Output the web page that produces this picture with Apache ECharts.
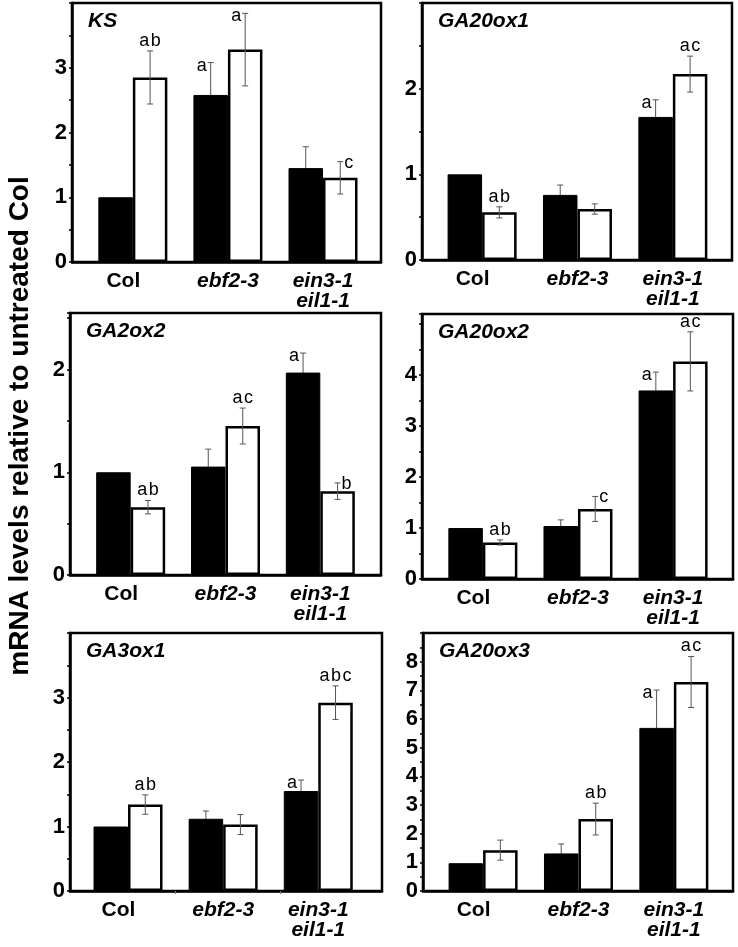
<!DOCTYPE html>
<html>
<head>
<meta charset="utf-8">
<script src="https://cdn.jsdelivr.net/npm/echarts@6/dist/echarts.min.js"></script>
<style>
  html, body { margin: 0; padding: 0; background: #fff; }
  #chart { width: 738px; height: 947px; }
</style>
</head>
<body>
<div id="chart"></div>
<script>
const genotypes = ['Col', 'ebf2-3', 'ein3-1\neil1-1'];

// KS
const ksUntreated = [1.00, 2.58, 1.45];
const ksUntreatedErr = [0, 0.50, 0.33];
const ksTreated = [2.85, 3.28, 1.30];
const ksTreatedErr = [0.41, 0.56, 0.25];
const ksUntreatedSig = ['', 'a', ''];
const ksTreatedSig = ['ab', 'a', 'c'];

// GA20ox1
const ga20ox1Untreated = [1.00, 0.76, 1.67];
const ga20ox1UntreatedErr = [0, 0.115, 0.20];
const ga20ox1Treated = [0.556, 0.595, 2.17];
const ga20ox1TreatedErr = [0.065, 0.06, 0.21];
const ga20ox1UntreatedSig = ['', '', 'a'];
const ga20ox1TreatedSig = ['ab', '', 'ac'];

// GA2ox2
const ga2ox2Untreated = [1.00, 1.055, 1.97];
const ga2ox2UntreatedErr = [0, 0.17, 0.19];
const ga2ox2Treated = [0.66, 1.45, 0.816];
const ga2ox2TreatedErr = [0.065, 0.175, 0.08];
const ga2ox2UntreatedSig = ['', '', 'a'];
const ga2ox2TreatedSig = ['ab', 'ac', 'b'];

// GA20ox2
const ga20ox2Untreated = [1.00, 1.04, 3.70];
const ga20ox2UntreatedErr = [0, 0.12, 0.36];
const ga20ox2Treated = [0.717, 1.375, 4.27];
const ga20ox2TreatedErr = [0.05, 0.245, 0.58];
const ga20ox2UntreatedSig = ['', '', 'a'];
const ga20ox2TreatedSig = ['ab', 'c', 'ac'];

// GA3ox1
const ga3ox1Untreated = [1.00, 1.12, 1.55];
const ga3ox1UntreatedErr = [0, 0.12, 0.17];
const ga3ox1Treated = [1.34, 1.03, 2.92];
const ga3ox1TreatedErr = [0.15, 0.155, 0.26];
const ga3ox1UntreatedSig = ['', '', 'a'];
const ga3ox1TreatedSig = ['ab', '', 'abc'];

// GA20ox3
const ga20ox3Untreated = [0.97, 1.31, 5.69];
const ga20ox3UntreatedErr = [0, 0.33, 1.32];
const ga20ox3Treated = [1.425, 2.51, 7.29];
const ga20ox3TreatedErr = [0.35, 0.555, 0.89];
const ga20ox3UntreatedSig = ['', '', 'a'];
const ga20ox3TreatedSig = ['', 'ab', 'ac'];

const FONT = '"Liberation Sans", Arial, sans-serif';
const BAR_W = 34.5;

// panel layout (pixels) and where each letter sits next to its error bar
const panels = [
    { gene: 'KS', grid: { left: 72, top: 3, width: 309, height: 259 }, xMin: 0.36, xMax: 3.61, yMax: 4, yLabelMax: 3,
      u: ksUntreated, ue: ksUntreatedErr, t: ksTreated, te: ksTreatedErr,
      us: ksUntreatedSig, ts: ksTreatedSig, tSide: ['top', 'left', 'right'] },
    { gene: 'GA20ox1', grid: { left: 422, top: 3, width: 310, height: 257 }, xMin: 0.37, xMax: 3.62, yMax: 3, yLabelMax: 2,
      u: ga20ox1Untreated, ue: ga20ox1UntreatedErr, t: ga20ox1Treated, te: ga20ox1TreatedErr,
      us: ga20ox1UntreatedSig, ts: ga20ox1TreatedSig, tSide: ['top', 'top', 'top'] },
    { gene: 'GA2ox2', grid: { left: 70, top: 313, width: 311, height: 262 }, xMin: 0.36, xMax: 3.64, yMax: 2.55, yLabelMax: 2,
      u: ga2ox2Untreated, ue: ga2ox2UntreatedErr, t: ga2ox2Treated, te: ga2ox2TreatedErr,
      us: ga2ox2UntreatedSig, ts: ga2ox2TreatedSig, tSide: ['top', 'top', 'right'] },
    { gene: 'GA20ox2', grid: { left: 422, top: 314, width: 311, height: 265 }, xMin: 0.36, xMax: 3.63, yMax: 5.2, yLabelMax: 4,
      u: ga20ox2Untreated, ue: ga20ox2UntreatedErr, t: ga20ox2Treated, te: ga20ox2TreatedErr,
      us: ga20ox2UntreatedSig, ts: ga20ox2TreatedSig, tSide: ['top', 'right', 'top'] },
    { gene: 'GA3ox1', grid: { left: 70, top: 633, width: 312, height: 258 }, xMin: 0.39, xMax: 3.67, yMax: 4, yLabelMax: 3,
      u: ga3ox1Untreated, ue: ga3ox1UntreatedErr, t: ga3ox1Treated, te: ga3ox1TreatedErr,
      us: ga3ox1UntreatedSig, ts: ga3ox1TreatedSig, tSide: ['top', 'top', 'top'], xTicks: [1.5, 2.6] },
    { gene: 'GA20ox3', grid: { left: 423, top: 633, width: 310, height: 258 }, xMin: 0.37, xMax: 3.62, yMax: 9, yLabelMax: 8,
      u: ga20ox3Untreated, ue: ga20ox3UntreatedErr, t: ga20ox3Treated, te: ga20ox3TreatedErr,
      us: ga20ox3UntreatedSig, ts: ga20ox3TreatedSig, tSide: ['top', 'top', 'top'] }
];

// Error bars + significance letters, drawn through the axis scales
const errorSeries = (idx, means, errs, sigs, sides, dx, z) => ({
    type: 'custom',
    xAxisIndex: idx,
    yAxisIndex: idx,
    z: z,
    silent: true,
    encode: { x: 0, y: 1 },
    data: means.map((m, k) => [k + 1, m, errs[k], k]),
    renderItem: (params, api) => {
        const x = api.value(0), m = api.value(1), e = api.value(2), k = api.value(3);
        const top = api.coord([x, m + e]);
        const bot = api.coord([x, m - e]);
        const cx = top[0] + dx;
        const children = [];
        const stroke = { stroke: '#555', lineWidth: 1 };
        if (e > 0) {
            children.push({ type: 'line', shape: { x1: cx, y1: top[1], x2: cx, y2: bot[1] }, style: stroke });
            children.push({ type: 'line', shape: { x1: cx - 3, y1: top[1], x2: cx + 3, y2: top[1] }, style: stroke });
            children.push({ type: 'line', shape: { x1: cx - 3, y1: bot[1], x2: cx + 3, y2: bot[1] }, style: stroke });
        }
        const s = sigs[k];
        if (s) {
            const side = sides[k];
            let tx = cx, ty = top[1] - 1, align = 'center', va = 'bottom';
            if (side === 'left') { tx = cx - 4; ty = top[1] + 3; align = 'right'; va = 'middle'; }
            if (side === 'right') { tx = cx + 4; ty = top[1] + 1; align = 'left'; va = 'middle'; }
            children.push({
                type: 'text', x: tx, y: ty,
                style: { text: s.split('').join('\u200a'), fill: '#000', font: 'normal 18px ' + FONT, align: align, verticalAlign: va }
            });
        }
        return { type: 'group', children };
    }
});

const option = {
    animation: false,
    backgroundColor: '#fff',
    title: [],
    grid: [],
    xAxis: [],
    yAxis: [],
    series: [],
    graphic: [{
        type: 'text',
        x: 20,
        y: 426,
        rotation: Math.PI / 2,
        style: {
            text: 'mRNA levels relative to untreated Col',
            font: 'bold 28px ' + FONT,
            fill: '#000',
            align: 'center',
            verticalAlign: 'middle'
        }
    }]
};

panels.forEach((p, i) => {
    option.grid.push(Object.assign({ show: true, borderColor: '#000', borderWidth: 2.5 }, p.grid));

    option.title.push({
        text: p.gene,
        left: p.grid.left + 16,
        top: p.grid.top + 8,
        padding: 0,
        textStyle: { fontFamily: FONT, fontSize: 21, fontWeight: 'bold', fontStyle: 'italic', color: '#000' }
    });

    option.xAxis.push({
        type: 'value',
        gridIndex: i,
        min: p.xMin,
        max: p.xMax,
        splitLine: { show: false },
        axisLine: { onZero: false, lineStyle: { color: '#000', width: 2.5 } },
        axisTick: p.xTicks
            ? { show: true, customValues: p.xTicks, length: 3, lineStyle: { color: '#777', width: 1 } }
            : { show: false },
        axisLabel: {
            customValues: [0.9, 2, 3],
            margin: 9,
            formatter: (v) => {
                const name = genotypes[Math.round(v) - 1] || '';
                return name.split('\n').map(s => (s === 'Col' ? '{n|' : '{i|') + s + '}').join('\n');
            },
            rich: {
                n: { fontFamily: FONT, fontSize: 21, fontWeight: 'bold', color: '#000', lineHeight: 20 },
                i: { fontFamily: FONT, fontSize: 21, fontWeight: 'bold', fontStyle: 'italic', color: '#000', lineHeight: 20 }
            }
        }
    });

    option.yAxis.push({
        type: 'value',
        gridIndex: i,
        min: 0,
        max: p.yMax,
        interval: 0.5,
        splitLine: { show: false },
        axisLine: { show: true, onZero: false, lineStyle: { color: '#000', width: 2.5 } },
        axisTick: { show: true, length: 3, lineStyle: { color: '#000', width: 1.5 } },
        axisLabel: {
            margin: 5,
            fontFamily: FONT,
            fontSize: 22,
            fontWeight: 'bold',
            color: '#000',
            formatter: (v) => (Number.isInteger(v) && v <= p.yLabelMax ? String(v) : '')
        }
    });

    // untreated (black) and GA-treated (white) bars
    option.series.push({
        type: 'bar',
        xAxisIndex: i,
        yAxisIndex: i,
        z: 2,
        barWidth: BAR_W,
        barGap: '0%',
        data: p.u.map((v, k) => [k + 1, v]),
        itemStyle: { color: '#000', borderColor: '#000', borderWidth: 1 }
    });
    option.series.push({
        type: 'bar',
        xAxisIndex: i,
        yAxisIndex: i,
        z: 2,
        barWidth: BAR_W,
        barGap: '0%',
        data: p.t.map((v, k) => [k + 1, v]),
        itemStyle: { color: '#fff', borderColor: '#000', borderWidth: 2.5 }
    });

    option.series.push(errorSeries(i, p.u, p.ue, p.us, ['left', 'left', 'left'], -BAR_W / 2, 1));
    option.series.push(errorSeries(i, p.t, p.te, p.ts, p.tSide, BAR_W / 2, 3));
});

const chart = echarts.init(document.getElementById('chart'), null, { renderer: 'canvas' });
chart.setOption(option);
</script>
</body>
</html>
